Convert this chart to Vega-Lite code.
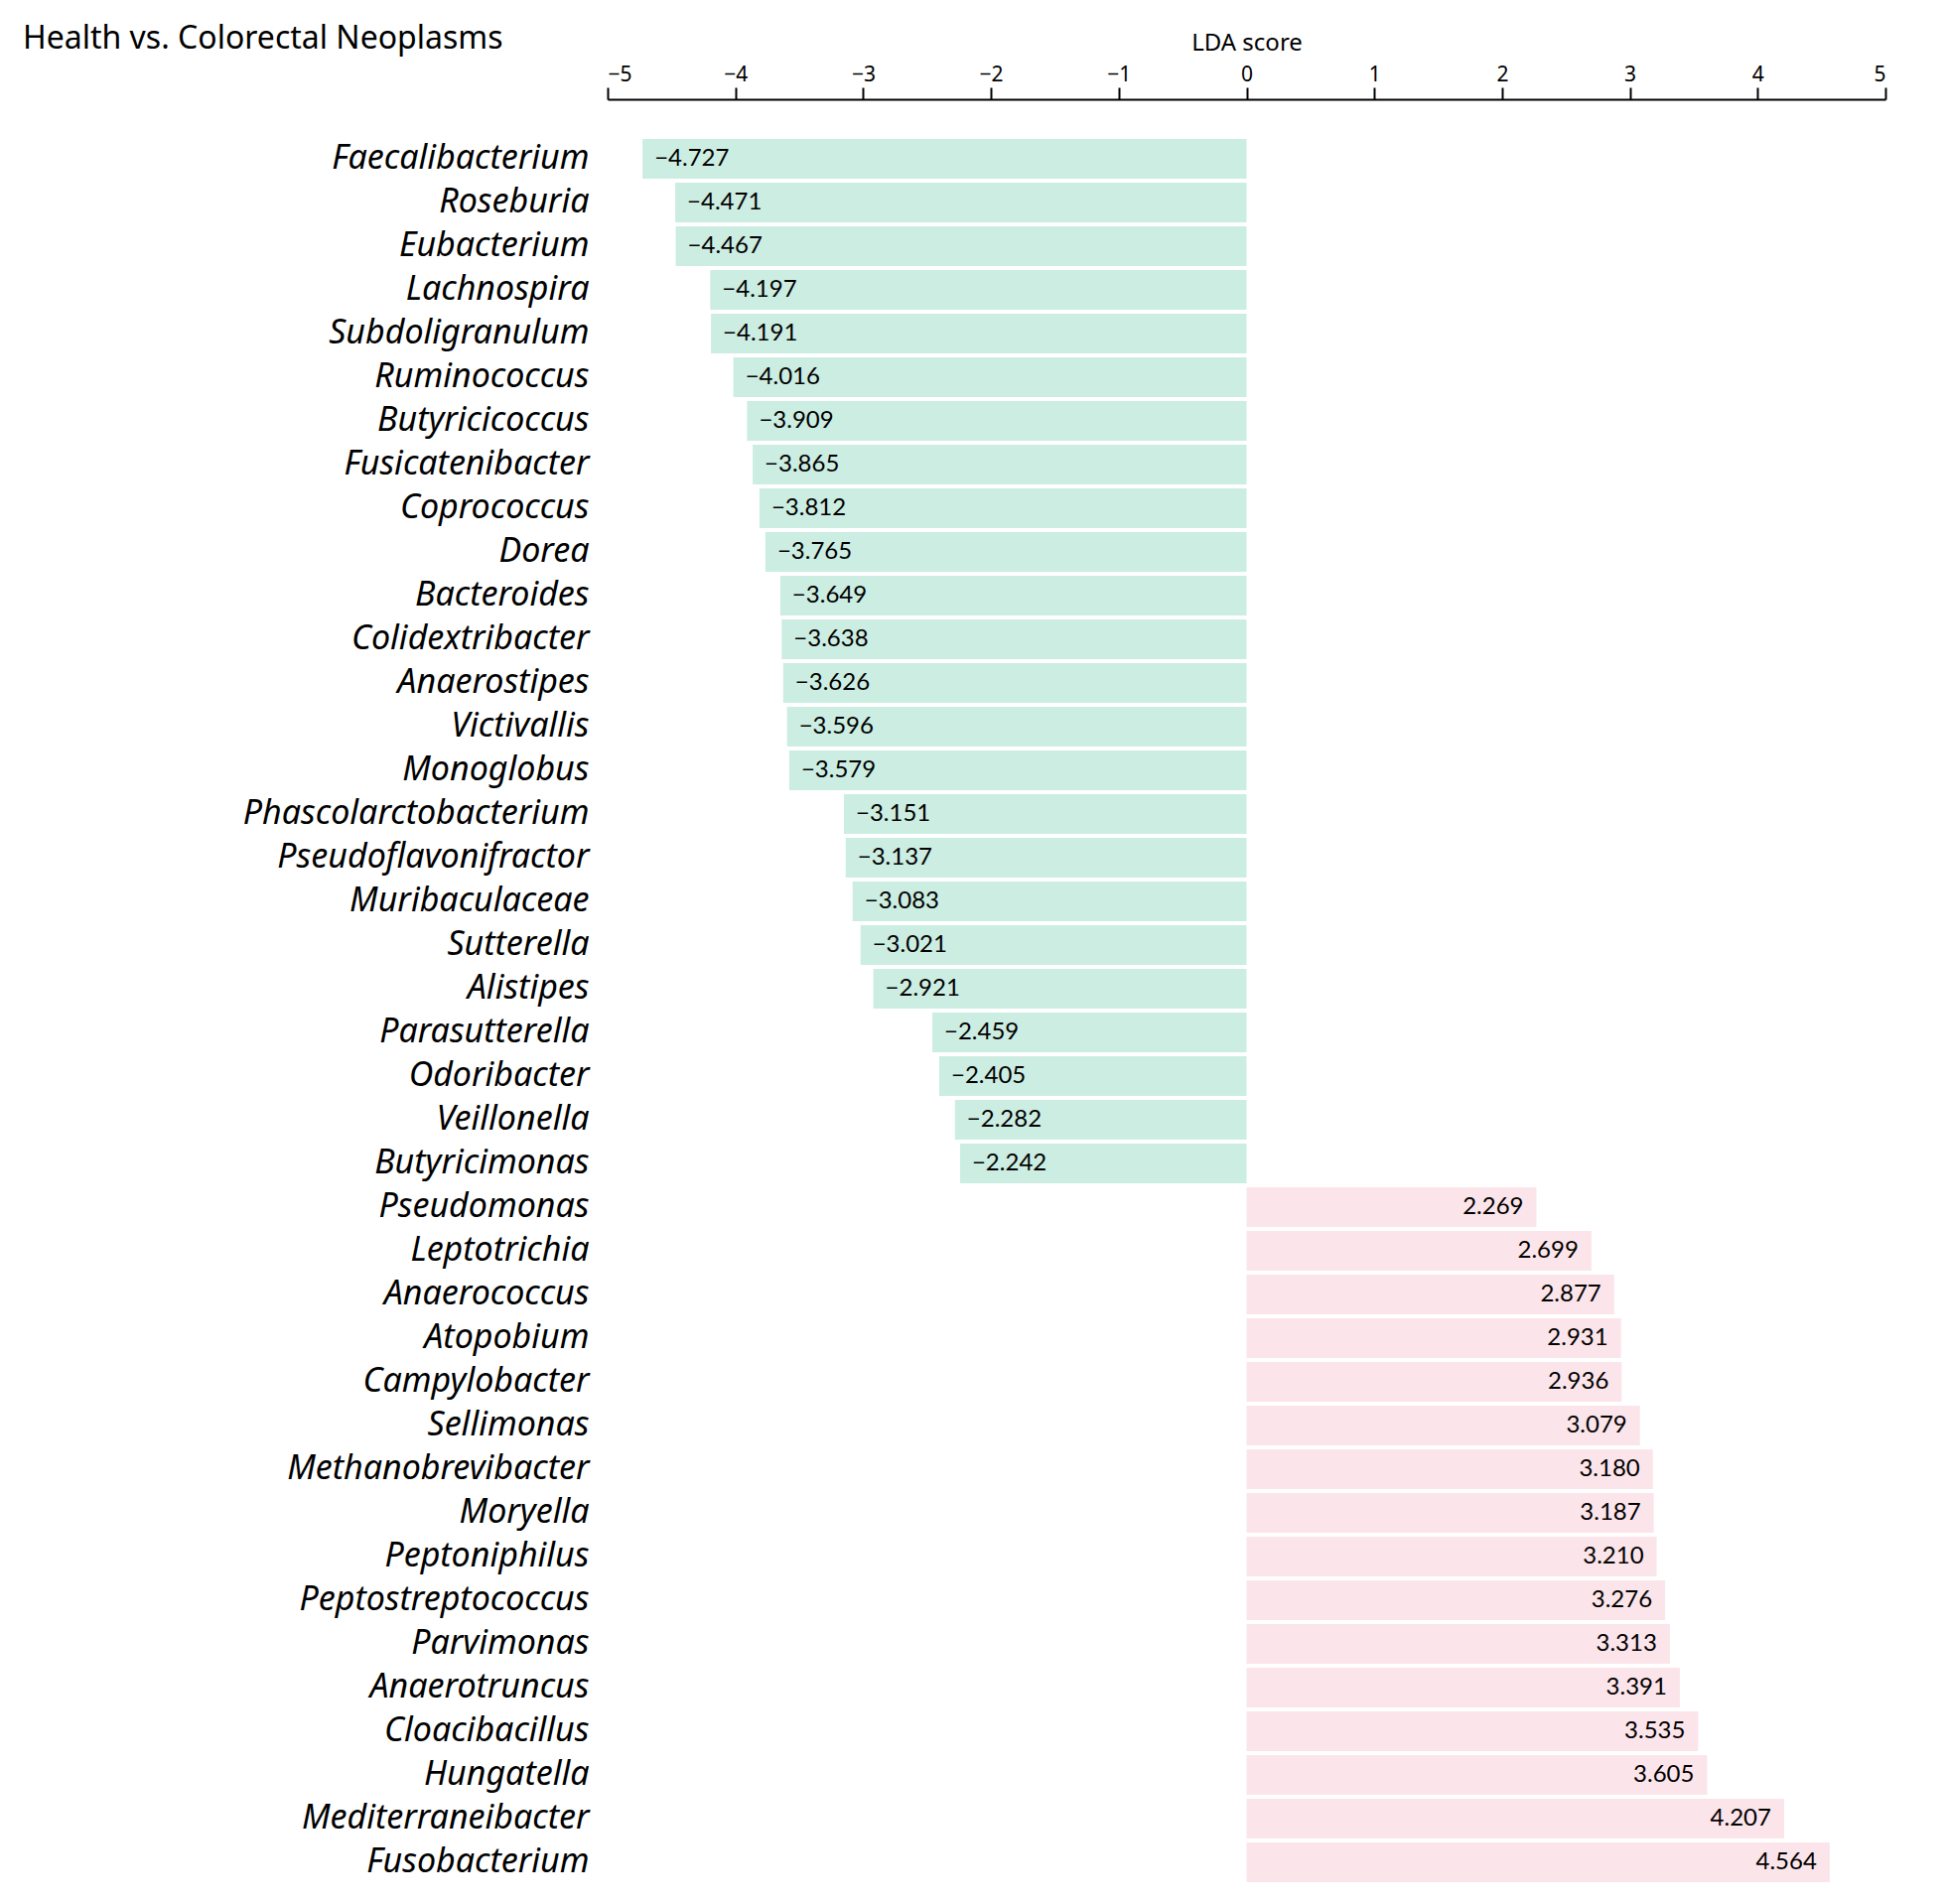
{
  "$schema": "https://vega.github.io/schema/vega-lite/v6.json",
  "width": 1287,
  "height": 1760,
  "autosize": "none",
  "padding": {"left": 612, "top": 138, "right": 61, "bottom": 20},
  "background": "white",
  "config": {
    "font": "Noto Sans",
    "view": {"stroke": null},
    "axis": {"grid": false, "labelColor": "black", "titleColor": "black"}
  },
  "title": {
    "text": "Health vs. Colorectal Neoplasms",
    "anchor": "start",
    "frame": "group",
    "font": "Noto Sans",
    "fontSize": 32,
    "fontWeight": "normal",
    "color": "black",
    "dx": -589,
    "dy": 29
  },
  "data": {
    "values": [
      {"genus": "Faecalibacterium", "lda": -4.727, "group": "Health"},
      {"genus": "Roseburia", "lda": -4.471, "group": "Health"},
      {"genus": "Eubacterium", "lda": -4.467, "group": "Health"},
      {"genus": "Lachnospira", "lda": -4.197, "group": "Health"},
      {"genus": "Subdoligranulum", "lda": -4.191, "group": "Health"},
      {"genus": "Ruminococcus", "lda": -4.016, "group": "Health"},
      {"genus": "Butyricicoccus", "lda": -3.909, "group": "Health"},
      {"genus": "Fusicatenibacter", "lda": -3.865, "group": "Health"},
      {"genus": "Coprococcus", "lda": -3.812, "group": "Health"},
      {"genus": "Dorea", "lda": -3.765, "group": "Health"},
      {"genus": "Bacteroides", "lda": -3.649, "group": "Health"},
      {"genus": "Colidextribacter", "lda": -3.638, "group": "Health"},
      {"genus": "Anaerostipes", "lda": -3.626, "group": "Health"},
      {"genus": "Victivallis", "lda": -3.596, "group": "Health"},
      {"genus": "Monoglobus", "lda": -3.579, "group": "Health"},
      {"genus": "Phascolarctobacterium", "lda": -3.151, "group": "Health"},
      {"genus": "Pseudoflavonifractor", "lda": -3.137, "group": "Health"},
      {"genus": "Muribaculaceae", "lda": -3.083, "group": "Health"},
      {"genus": "Sutterella", "lda": -3.021, "group": "Health"},
      {"genus": "Alistipes", "lda": -2.921, "group": "Health"},
      {"genus": "Parasutterella", "lda": -2.459, "group": "Health"},
      {"genus": "Odoribacter", "lda": -2.405, "group": "Health"},
      {"genus": "Veillonella", "lda": -2.282, "group": "Health"},
      {"genus": "Butyricimonas", "lda": -2.242, "group": "Health"},
      {"genus": "Pseudomonas", "lda": 2.269, "group": "CRC"},
      {"genus": "Leptotrichia", "lda": 2.699, "group": "CRC"},
      {"genus": "Anaerococcus", "lda": 2.877, "group": "CRC"},
      {"genus": "Atopobium", "lda": 2.931, "group": "CRC"},
      {"genus": "Campylobacter", "lda": 2.936, "group": "CRC"},
      {"genus": "Sellimonas", "lda": 3.079, "group": "CRC"},
      {"genus": "Methanobrevibacter", "lda": 3.18, "group": "CRC"},
      {"genus": "Moryella", "lda": 3.187, "group": "CRC"},
      {"genus": "Peptoniphilus", "lda": 3.21, "group": "CRC"},
      {"genus": "Peptostreptococcus", "lda": 3.276, "group": "CRC"},
      {"genus": "Parvimonas", "lda": 3.313, "group": "CRC"},
      {"genus": "Anaerotruncus", "lda": 3.391, "group": "CRC"},
      {"genus": "Cloacibacillus", "lda": 3.535, "group": "CRC"},
      {"genus": "Hungatella", "lda": 3.605, "group": "CRC"},
      {"genus": "Mediterraneibacter", "lda": 4.207, "group": "CRC"},
      {"genus": "Fusobacterium", "lda": 4.564, "group": "CRC"}
    ]
  },
  "encoding": {
    "y": {
      "field": "genus",
      "type": "nominal",
      "sort": null,
      "title": null,
      "scale": {"paddingInner": 0.09, "paddingOuter": 0.045},
      "axis": {
        "ticks": false,
        "domain": false,
        "labelFont": "Noto Sans",
        "labelFontSize": 34,
        "labelFontStyle": "italic",
        "labelPadding": 19,
        "labelLimit": 600
      }
    },
    "x": {
      "field": "lda",
      "type": "quantitative",
      "title": "LDA score",
      "scale": {"domain": [-5, 5], "nice": false},
      "axis": {
        "orient": "top",
        "offset": 38,
        "values": [-5, -4, -3, -2, -1, 0, 1, 2, 3, 4, 5],
        "domainColor": "black",
        "domainWidth": 2,
        "tickColor": "black",
        "tickWidth": 2,
        "tickSize": 12,
        "labelFontSize": 21,
        "labelPadding": 3,
        "titleFontSize": 24,
        "titleFontWeight": "normal",
        "titlePadding": 9
      }
    }
  },
  "layer": [
    {
      "mark": {"type": "bar"},
      "encoding": {
        "color": {
          "field": "group",
          "type": "nominal",
          "scale": {"domain": ["Health", "CRC"], "range": ["#ccede2", "#fce5ea"]},
          "legend": null
        }
      }
    },
    {
      "transform": [{"filter": "datum.lda < 0"}],
      "mark": {"type": "text", "align": "left", "baseline": "middle", "dx": 12, "font": "Lato", "fontSize": 24, "color": "black"},
      "encoding": {
        "text": {"field": "lda", "type": "quantitative", "format": ".3f"}
      }
    },
    {
      "transform": [{"filter": "datum.lda > 0"}],
      "mark": {"type": "text", "align": "right", "baseline": "middle", "dx": -13, "font": "Lato", "fontSize": 24, "color": "black"},
      "encoding": {
        "text": {"field": "lda", "type": "quantitative", "format": ".3f"}
      }
    }
  ]
}
